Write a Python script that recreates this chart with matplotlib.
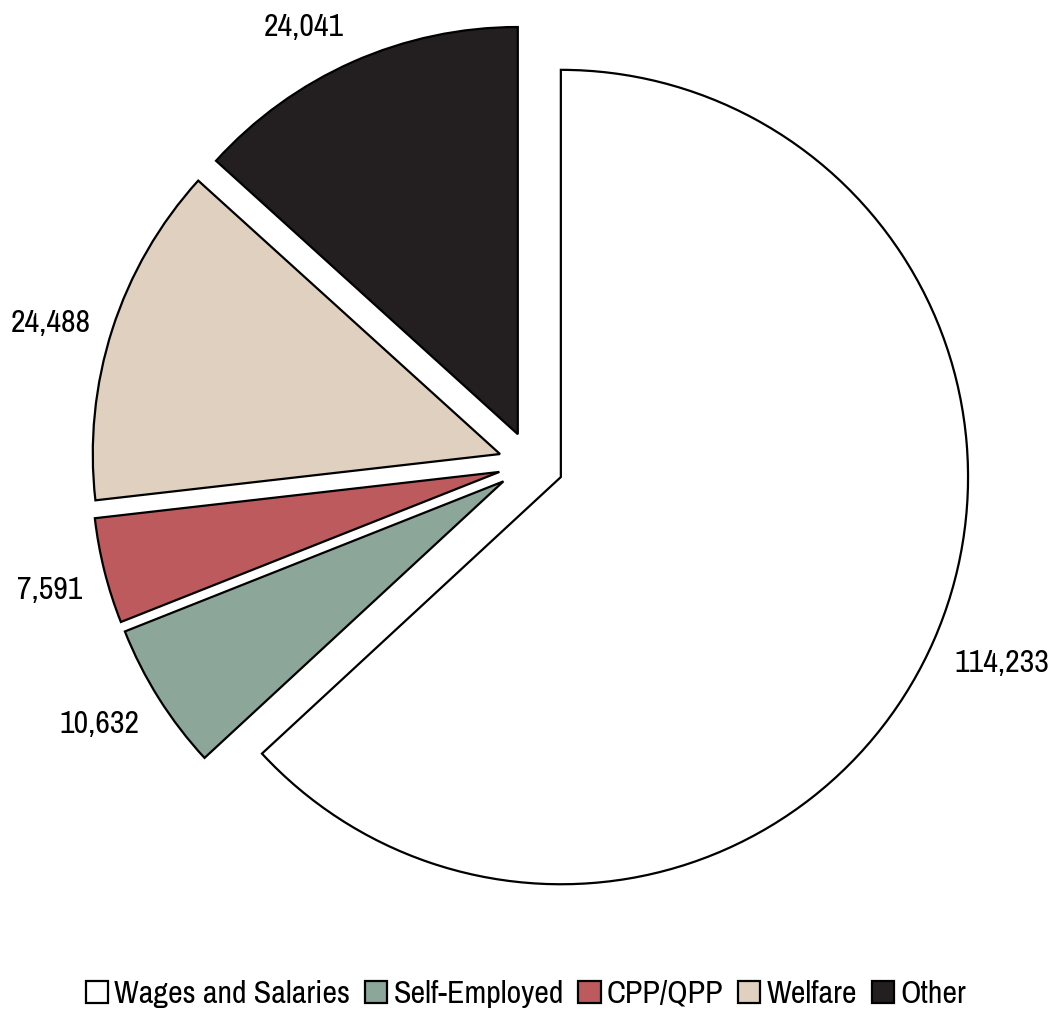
import numpy as np
import matplotlib.pyplot as plt

plt.rcParams['font.family'] = ['Archivo Narrow', 'DejaVu Sans']

categories = ['Wages and Salaries', 'Self-Employed', 'CPP/QPP', 'Welfare', 'Other']
values = [114233, 10632, 7591, 24488, 24041]
colors = ['#ffffff', '#8ca699', '#bc5a5d', '#dfd0bf', '#231f20']

fig = plt.figure(figsize=(10.52, 10.11), dpi=100)
ax = fig.add_axes([22 / 1052, 38 / 1011, 1018 / 1052, 1018 / 1011])

wedges, _ = ax.pie(values, colors=colors, explode=[0.08] * len(values),
                   startangle=90, counterclock=False,
                   wedgeprops=dict(edgecolor='black', linewidth=1.6))

# value labels: the corner of the text box nearest the pie sits on a ring
for w, v in zip(wedges, values):
    mid = np.deg2rad((w.theta1 + w.theta2) / 2)
    c, s = np.cos(mid), np.sin(mid)
    ha = 'left' if c > 0 else 'right'
    va = 'bottom' if s > 0.5 else ('top' if s < -0.2 else 'center')
    ax.text(1.135 * c, 1.135 * s, f'{v:,}', ha=ha, va=va, fontsize=23)

ax.set_xlim(-1.25, 1.25)
ax.set_ylim(-1.25, 1.25)
ax.set_aspect('equal')
ax.axis('off')

fig.legend(wedges, categories, loc='center', bbox_to_anchor=(0.5, 1 - 994 / 1011),
           ncol=5, frameon=False, fontsize=23, handlelength=0.7, handleheight=0.7,
           handletextpad=0.2, columnspacing=0.45)

fig.savefig('out.png', dpi=100)
